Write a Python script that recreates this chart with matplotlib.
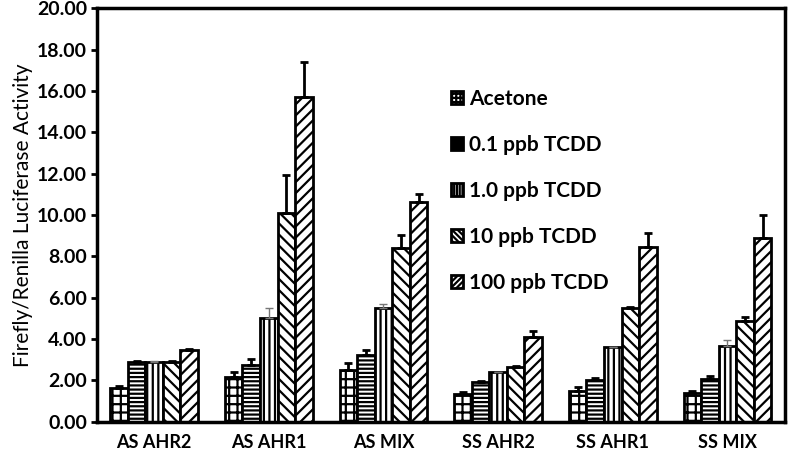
import numpy as np
import matplotlib
matplotlib.use("Agg")
import matplotlib.pyplot as plt

plt.rcParams['font.family'] = ['Lato', 'DejaVu Sans']
plt.rcParams['hatch.linewidth'] = 1.6

# --- data ---
groups = ['AS AHR2', 'AS AHR1', 'AS MIX', 'SS AHR2', 'SS AHR1', 'SS MIX']
series = ['Acetone', '0.1 ppb TCDD', '1.0 ppb TCDD', '10 ppb TCDD', '100 ppb TCDD']

acetone = [1.62, 2.15, 2.50, 1.35, 1.50, 1.40]
tcdd_01 = [2.90, 2.75, 3.25, 1.90, 2.00, 2.05]
tcdd_1 = [2.90, 5.00, 5.50, 2.40, 3.60, 3.65]
tcdd_10 = [2.90, 10.10, 8.40, 2.65, 5.50, 4.85]
tcdd_100 = [3.45, 15.70, 10.65, 4.10, 8.45, 8.90]

err_acetone = [0.12, 0.25, 0.35, 0.10, 0.20, 0.08]
err_01 = [0.03, 0.30, 0.20, 0.08, 0.10, 0.15]
err_1 = [0.03, 0.50, 0.20, 0.03, 0.03, 0.30]
err_10 = [0.05, 1.85, 0.65, 0.05, 0.05, 0.20]
err_100 = [0.05, 1.70, 0.35, 0.30, 0.70, 1.10]

values = [acetone, tcdd_01, tcdd_1, tcdd_10, tcdd_100]
errors = [err_acetone, err_01, err_1, err_10, err_100]
hatches = ['++', '----', '|||', '\\\\\\', '///']
err_colors = ['black', 'black', '#777777', 'black', 'black']
err_widths = [2.0, 2.0, 1.0, 2.0, 2.0]

fig, ax = plt.subplots(figsize=(8, 4.55), dpi=100)
fig.subplots_adjust(left=0.121, right=0.981, bottom=0.073, top=0.982)

x = np.arange(len(groups))
width = 0.153
for i, (vals, errs) in enumerate(zip(values, errors)):
    pos = x + (i - 2) * width
    ax.bar(pos, vals, width, color='white', edgecolor='black', linewidth=2,
           hatch=hatches[i], label=series[i], zorder=2)
    ax.errorbar(pos, vals, yerr=[np.zeros(len(errs)), errs], fmt='none',
                ecolor=err_colors[i], elinewidth=err_widths[i], capsize=3,
                capthick=err_widths[i], zorder=3)

ax.set_xlim(-0.5, 5.5)
ax.set_ylim(0, 20)
ax.set_yticks(np.arange(0, 20.1, 2))
ax.set_yticklabels([f'{v:.2f}' for v in np.arange(0, 20.1, 2)],
                   fontsize=14, fontweight='bold')
ax.set_xticks(x)
ax.set_xticklabels(groups, fontsize=13, fontweight='bold')
ax.tick_params(axis='x', length=0, pad=9)
ax.tick_params(axis='y', length=4, width=2, direction='out', pad=3)
ax.set_ylabel('Firefly/Renilla Luciferase Activity', fontsize=15, labelpad=3)
for s in ax.spines.values():
    s.set_linewidth(2.5)

leg = ax.legend(loc='upper left', bbox_to_anchor=(0.487, 0.85), frameon=False,
                prop={'weight': 'bold', 'size': 15}, labelspacing=1.25,
                handlelength=0.6, handleheight=0.6, handletextpad=0.3)
for h, hp in zip(leg.legend_handles, hatches):
    h.set_hatch(hp * 2)

fig.savefig('out.png', dpi=100)
